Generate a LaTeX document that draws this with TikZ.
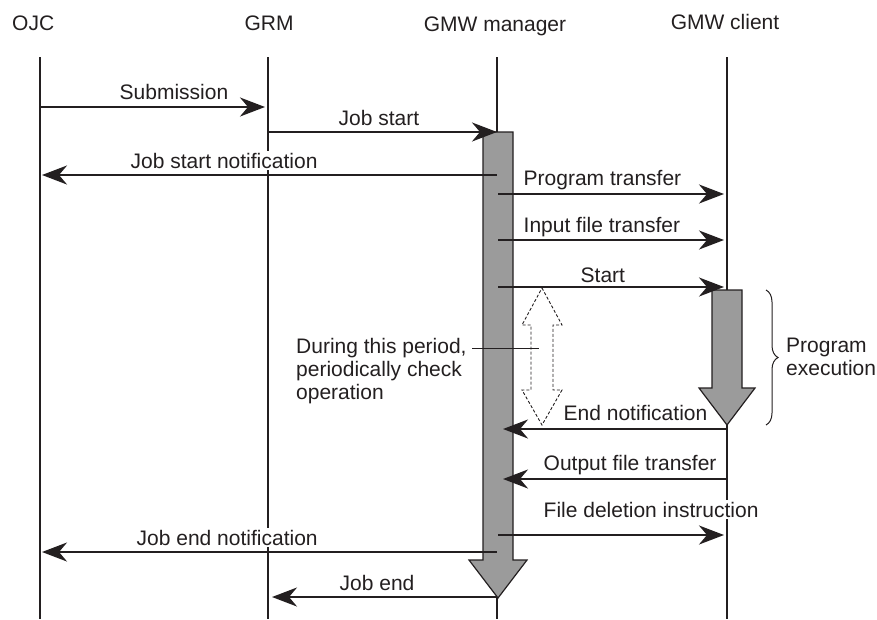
\documentclass[tikz,border=0pt]{standalone}
\usepackage{fontspec}
\setmainfont{Liberation Sans}
\usetikzlibrary{arrows.meta,calc,decorations.pathreplacing}
\definecolor{ink}{HTML}{231F20}
\definecolor{bargray}{HTML}{9B9B9B}
\begin{document}
\begin{tikzpicture}[x=1pt,y=-1pt,
  font=\fontsize{21}{23}\selectfont, text=ink,
  life/.style={draw=ink, line width=2pt},
  msg/.style={draw=ink, line width=2.2pt, -{Stealth[length=25pt,width=19pt,inset=8pt]}},
  lbl/.style={anchor=base west, inner sep=1.5pt, fill=white},
  hdr/.style={anchor=base, inner sep=0pt},
  act/.style={draw=ink, fill=bargray, line width=1.2pt, line join=miter},
  dbl/.style={draw=ink, fill=white, dash pattern=on 3pt off 2pt, line width=0.9pt},
  thin/.style={draw=ink, line width=1pt}]
\useasboundingbox (0,0) rectangle (877,619);
% headers
\node[hdr, anchor=base west] (hojc) at (12,30) {OJC};
\node[hdr] (hgrm) at (269,30) {GRM};
\node[hdr] (hman) at (495,31) {GMW manager};
\node[hdr] (hcli) at (725,29) {GMW client};
% lifelines
\coordinate (ojc) at (40,0);
\coordinate (grm) at (268,0);
\coordinate (man) at (497,0);
\coordinate (cli) at (727,0);
\foreach \l in {ojc,grm,man,cli}{
  \draw[life] ($(\l)+(0,57)$) -- ($(\l)+(0,619)$);
}
% activation block arrows
\draw[act] (483,132) -- (513,132) -- (513,560) -- (527,560) -- (498,598)
  -- (469,560) -- (483,560) -- cycle;
\draw[act] (712,290) -- (742,290) -- (742,388) -- (755,388) -- (727,425)
  -- (699,388) -- (712,388) -- cycle;
% labels
\node[lbl] (l1) at (118,99) {Submission};
\node[lbl] (l2) at (337,125) {Job start};
\node[lbl] (l3) at (129,168) {Job start notification};
\node[lbl] (l4) at (522,185) {Program transfer};
\node[lbl] (l5) at (522,232) {Input file transfer};
\node[lbl] (l6) at (579,282) {Start};
\node[lbl] (l7) at (562,420) {End notification};
\node[lbl] (l8) at (542,470) {Output file transfer};
\node[lbl] (l9) at (542,517) {File deletion instruction};
\node[lbl] (l10) at (135,545) {Job end notification};
\node[lbl] (l11) at (338,590) {Job end};
% dashed double arrow
\draw[dbl] (542,288) -- (562,325) -- (553,325) -- (553,390) -- (562,390)
  -- (542,425) -- (522,390) -- (531,390) -- (531,325) -- (522,325) -- cycle;
\coordinate (dblc) at (539,348);
\node[anchor=north west, align=left, inner sep=0pt] (period) at (296,338)
  {During this period,\\periodically check\\operation};
\coordinate (pstart) at (472,348);
\draw[thin] (pstart) -- (dblc);
% messages
\draw[msg] ($(ojc)+(0,107)$) -- ($(grm)+(-3,107)$);
\draw[msg] ($(grm)+(0,132)$) -- ($(man)+(0,132)$);
\draw[msg] ($(man)+(0,175)$) -- ($(ojc)+(2,175)$);
\draw[msg] ($(man)+(1,194)$) -- ($(cli)+(-3,194)$);
\draw[msg] ($(man)+(1,240)$) -- ($(cli)+(-3,240)$);
\draw[msg] ($(man)+(1,287)$) -- ($(cli)+(-3,287)$);
\draw[msg] ($(cli)+(0,429)$) -- ($(man)+(6,429)$);
\draw[msg] ($(cli)+(0,479)$) -- ($(man)+(6,479)$);
\draw[msg] ($(man)+(1,535)$) -- ($(cli)+(-3,535)$);
\draw[msg] ($(man)+(0,552)$) -- ($(ojc)+(2,552)$);
\draw[msg] ($(man)+(0,597)$) -- ($(grm)+(4,597)$);
% brace
\coordinate (bt) at (766,290);
\coordinate (bb) at (766,425);
\draw[thin, decorate, decoration={brace, amplitude=12pt}] (bt) -- (bb);
\node[anchor=north west, align=left, inner sep=0pt] (pexec) at (786,338)
  {Program\\execution};
\end{tikzpicture}
\end{document}
